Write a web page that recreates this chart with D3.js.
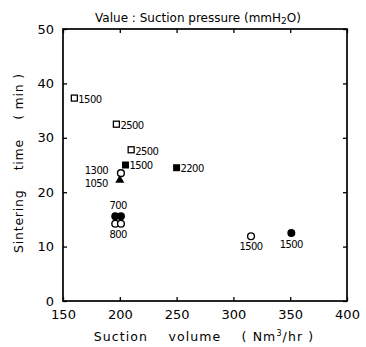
<!DOCTYPE html>
<html>
<head>
<meta charset="utf-8">
<script src="https://d3js.org/d3.v7.min.js"></script>
<style>
  body { margin: 0; background: #fff; }
  svg text { font-family: "DejaVu Sans", sans-serif; fill: #000; }
</style>
</head>
<body>
<script>
// suction volume (Nm3/hr) vs sintering time (min), label = suction pressure (mmH2O)
const openSquareX = [160, 197, 210];
const openSquareY = [37.3, 32.5, 27.8];
const openSquareP = ["1500", "2500", "2500"];

const filledSquareX = [205, 250];
const filledSquareY = [25.0, 24.5];
const filledSquareP = ["1500", "2200"];

const openCircleX = [201, 196, 201, 315.5];
const openCircleY = [23.5, 14.2, 14.2, 11.9];
const openCircleP = ["1300", "800", null, "1500"];

const filledCircleX = [196, 201, 351];
const filledCircleY = [15.6, 15.6, 12.5];
const filledCircleP = ["700", null, "1500"];

const triangleX = [200];
const triangleY = [22.2];
const triangleP = ["1050"];

const xTicks = [150, 200, 250, 300, 350, 400];
const yTicks = [0, 10, 20, 30, 40, 50];

const width = 366, height = 347;
const svg = d3.select("body").append("svg")
    .attr("width", width)
    .attr("height", height);

const x = d3.scaleLinear().domain([150, 400]).range([63, 347]);
const y = d3.scaleLinear().domain([0, 50]).range([301, 29]);

// frame
svg.append("rect")
    .attr("x", x(150)).attr("y", y(50))
    .attr("width", x(400) - x(150)).attr("height", y(0) - y(50))
    .attr("fill", "none").attr("stroke", "#000").attr("stroke-width", 1.7);

// inward ticks on all four sides
const axBottom = d3.axisBottom(x).tickValues(xTicks).tickSizeInner(-4).tickSizeOuter(0).tickPadding(9);
const axTop = d3.axisTop(x).tickValues(xTicks).tickSizeInner(-4).tickSizeOuter(0).tickFormat("");
const axLeft = d3.axisLeft(y).tickValues(yTicks).tickSizeInner(-4).tickSizeOuter(0).tickPadding(9);
const axRight = d3.axisRight(y).tickValues(yTicks).tickSizeInner(-4).tickSizeOuter(0).tickFormat("");

function styleAxis(g) {
  g.select(".domain").remove();
  g.selectAll(".tick line").attr("stroke", "#000").attr("stroke-width", 1.3);
  g.selectAll(".tick text").attr("font-size", 13).attr("fill", "#000")
    .style("font-family", "'DejaVu Sans', sans-serif");
}
svg.append("g").attr("transform", `translate(0,${y(0)})`).call(axBottom).call(styleAxis);
svg.append("g").attr("transform", `translate(0,${y(50)})`).call(axTop).call(styleAxis);
svg.append("g").attr("transform", `translate(${x(150)},0)`).call(axLeft).call(styleAxis);
svg.append("g").attr("transform", `translate(${x(400)},0)`).call(axRight).call(styleAxis);

// titles
const title = svg.append("text")
    .attr("x", 198).attr("y", 22)
    .attr("text-anchor", "middle")
    .attr("font-size", 12);
title.append("tspan").text("Value : Suction pressure (mmH");
title.append("tspan").attr("font-size", 9).attr("dy", 2).text("2");
title.append("tspan").attr("dy", -2).text("O)");

const xt = svg.append("text")
    .attr("x", 204).attr("y", 341)
    .attr("text-anchor", "middle")
    .attr("font-size", 12.5)
    .attr("letter-spacing", 1.1)
    .attr("xml:space", "preserve");
xt.append("tspan").text("Suction    volume    ( Nm");
xt.append("tspan").attr("font-size", 8).attr("dy", -5).text("3");
xt.append("tspan").attr("dy", 5).text("/hr )");

svg.append("text")
    .attr("transform", "translate(23,163) rotate(-90)")
    .attr("text-anchor", "middle")
    .attr("font-size", 12.5)
    .attr("letter-spacing", 0.8)
    .attr("xml:space", "preserve")
    .text("Sintering    time    ( min )");

// markers
const pts = (xs, ys, ps) => xs.map((v, i) => ({ x: v, y: ys[i], p: ps[i] }));

svg.append("g").selectAll("rect")
  .data(pts(openSquareX, openSquareY, openSquareP)).join("rect")
    .attr("x", d => x(d.x) - 3).attr("y", d => y(d.y) - 3)
    .attr("width", 6).attr("height", 6)
    .attr("fill", "#fff").attr("stroke", "#000").attr("stroke-width", 1.3);

svg.append("g").selectAll("rect")
  .data(pts(filledSquareX, filledSquareY, filledSquareP)).join("rect")
    .attr("x", d => x(d.x) - 3.5).attr("y", d => y(d.y) - 3.5)
    .attr("width", 7).attr("height", 7)
    .attr("fill", "#000");

svg.append("g").selectAll("circle")
  .data(pts(openCircleX, openCircleY, openCircleP)).join("circle")
    .attr("cx", d => x(d.x)).attr("cy", d => y(d.y)).attr("r", 3.4)
    .attr("fill", "#fff").attr("stroke", "#000").attr("stroke-width", 1.4);

svg.append("g").selectAll("circle")
  .data(pts(filledCircleX, filledCircleY, filledCircleP)).join("circle")
    .attr("cx", d => x(d.x)).attr("cy", d => y(d.y)).attr("r", 4)
    .attr("fill", "#000");

svg.append("g").selectAll("path")
  .data(pts(triangleX, triangleY, triangleP)).join("path")
    .attr("transform", d => `translate(${x(d.x)},${y(d.y)})`)
    .attr("d", d3.symbol(d3.symbolTriangle, 36))
    .attr("fill", "#000");

// pressure labels: squares to the right (lowered), left-side for the 1300/1050 pair,
// above for 700, below for 800 and the 1500 circles
function label(d, dx, dy, anchor) {
  svg.append("text")
    .attr("x", x(d.x) + dx).attr("y", y(d.y) + dy)
    .attr("text-anchor", anchor)
    .attr("font-size", 10)
    .attr("letter-spacing", -0.6)
    .text(d.p);
}
pts(openSquareX, openSquareY, openSquareP).forEach(d => label(d, 4, 5, "start"));
pts(filledSquareX, filledSquareY, filledSquareP).forEach(d => label(d, 4, 4, "start"));
pts(openCircleX, openCircleY, openCircleP).forEach((d, i) => {
  if (!d.p) return;
  if (i === 0) label(d, -13, 1, "end");
  else if (i === 1) label({ x: 198.5, y: d.y, p: d.p }, 0, 14, "middle");
  else label(d, 0, 14, "middle");
});
pts(filledCircleX, filledCircleY, filledCircleP).forEach((d, i) => {
  if (!d.p) return;
  if (i === 0) label({ x: 198.5, y: d.y, p: d.p }, 0, -7, "middle");
  else label(d, 0, 15, "middle");
});
pts(triangleX, triangleY, triangleP).forEach(d => label(d, -12, 7, "end"));
</script>
</body>
</html>
